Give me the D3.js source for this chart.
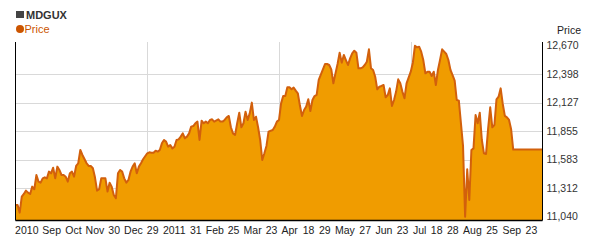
<!DOCTYPE html>
<html>
<head>
<meta charset="utf-8">
<script src="https://cdnjs.cloudflare.com/ajax/libs/d3/7.8.5/d3.min.js"></script>
<style>
  body { margin: 0; background: #fff; }
  text { font-family: "Liberation Sans", Arial, sans-serif; }
</style>
</head>
<body>
<script>
// trading session number (x) and price (y)
var sessions = [0,1,2,3,4,5,6,7,8,9,10,11,12,13,14,15,16,17,18,19,20,21,22,23,24,25,26,27,28,29,30,31,32,34,35,36,37,38,39,40,
  41,42,43,44,45,46,47,48,49,50,51,52,53,54,55,56,57,58,59,60,61,63,64,65,66,67,68,69,70,71,72,73,74,75,76,77,78,79,80,
  81,82,83,84,85,86,87,88,89,90,91,92,93,94,95,97,98,99,100,101,102,103,104,105,106,107,108,109,110,111,112,113,114,115,
  116,117,118,119,120,121,123,124,125,126,127,128,129,130,131,132,133,134,135,136,137,138,139,140,141,142,143,144,145,
  147,148,149,150,151,152,153,154,155,156,157,158,159,160,161,162,163,164,165,166,167,168,169,170,171,172,173,174,175,
  176,177,178,179,180,181,182,183,184,185,186,187,189,190,191,192,193,194,195,196,197,198,199,200,201,202,203,204,205,
  206,207,208,209,210,211,212,214,215,216,217,218,219,220,221,222,223,224,225,226,227,228,229,230,231,232,233,234,235,
  236,237,238,252];
var prices = [11152,11152,11079,11232,11257,11289,11270,11257,11327,11302,11438,11375,11365,11406,11416,11406,11470,11454,11508,11406,
  11518,11486,11438,11438,11422,11375,11454,11470,11422,11524,11550,11677,11629,11550,11524,11524,11502,11416,11289,11302,
  11406,11406,11406,11280,11365,11327,11248,11216,11454,11486,11470,11406,11365,11391,11470,11518,11550,11454,11518,11550,
  11588,11645,11654,11651,11651,11670,11661,11677,11740,11772,11756,11708,11724,11692,11708,11772,11778,11804,11835,11788,
  11804,11835,11899,11905,11931,11947,11772,11956,11931,11947,11931,11963,11969,11947,11969,11947,11947,11963,11988,12001,
  11893,11835,11820,11931,12032,11893,11931,12042,11963,12026,12128,11963,11994,11893,11772,11581,11645,11715,11851,11867,
  11899,11947,11963,12121,12191,12191,12274,12274,12255,12271,12242,12217,12100,12001,12058,12090,12160,12048,12153,12191,
  12201,12344,12445,12496,12496,12487,12445,12312,12407,12496,12604,12509,12582,12534,12487,12550,12598,12623,12604,12455,
  12455,12464,12487,12518,12636,12455,12439,12375,12255,12280,12287,12296,12179,12201,12264,12096,12153,12233,12350,12312,
  12233,12169,12312,12423,12509,12670,12655,12661,12614,12534,12407,12423,12423,12382,12423,12296,12439,12534,12636,12614,
  12592,12534,12439,12391,12337,12153,12147,11715,11040,11492,11200,11677,11692,12010,11931,12032,11772,11645,11639,11883,
  12083,11893,11915,12160,12185,12264,12115,12001,11988,11963,11874,11680,11680];

var xLabels = ["2010","Sep","Oct","Nov","30","Dec","29","2011","31","Feb","25","Mar","23","Apr","18","29","May","27","Jun","23","Jul","18","28","Aug","25","Sep","23"];
var xLabelSessions = [5.4,17.3,27.7,38,47.2,56.4,65.6,75.9,86.2,95.3,104.3,113.4,122.4,131.1,140.1,147.9,157.5,167.2,176.2,185.1,193.3,201.4,209.1,218.5,227.9,237.3,246.7];
var yTicks = [11040,11312,11583,11855,12127,12398,12670];

var width = 600, height = 247;
var margin = {top: 42, right: 57.5, bottom: 27, left: 15.5};
var lastSession = 252;

var svg = d3.select("body").append("svg")
  .attr("width", width)
  .attr("height", height);

var x = d3.scaleLinear()
  .domain([0, lastSession])
  .range([margin.left, width - margin.right]);

var y = d3.scaleLinear()
  .domain([11009, 12706])
  .range([height - margin.bottom, margin.top]);

var data = sessions.map(function(s, i) { return {s: s, p: prices[i]}; });

// grid
svg.append("g").selectAll("line")
  .data(yTicks.slice(1, -1))
  .enter().append("line")
    .attr("x1", x(0)).attr("x2", x(lastSession))
    .attr("y1", function(d) { return Math.round(y(d)) + 0.5; })
    .attr("y2", function(d) { return Math.round(y(d)) + 0.5; })
    .attr("stroke", "#d9d9d9");

svg.append("g").selectAll("line")
  .data([1, 2, 3])
  .enter().append("line")
    .attr("x1", function(d) { return Math.round(x(lastSession * d / 4)) + 0.5; })
    .attr("x2", function(d) { return Math.round(x(lastSession * d / 4)) + 0.5; })
    .attr("y1", margin.top).attr("y2", height - margin.bottom)
    .attr("stroke", "#d9d9d9");

// area + line
var area = d3.area()
  .x(function(d) { return x(d.s); })
  .y0(height - margin.bottom)
  .y1(function(d) { return y(d.p); });

var line = d3.line()
  .x(function(d) { return x(d.s); })
  .y(function(d) { return y(d.p); });

svg.append("path")
  .datum(data)
  .attr("d", area)
  .attr("fill", "#f09c00");

svg.append("path")
  .datum(data)
  .attr("d", line)
  .attr("fill", "none")
  .attr("stroke", "#d2600c")
  .attr("stroke-width", 2)
  .attr("stroke-linejoin", "round");

// axes frame
var frame = svg.append("g").attr("stroke", "#000").attr("stroke-width", 1);
frame.append("line").attr("x1", x(0)).attr("x2", x(0)).attr("y1", margin.top).attr("y2", height - margin.bottom + 0.5);
frame.append("line").attr("x1", x(lastSession)).attr("x2", x(lastSession)).attr("y1", margin.top).attr("y2", height - margin.bottom + 0.5);
frame.append("line").attr("x1", x(0)).attr("x2", x(lastSession)).attr("y1", height - margin.bottom + 0.5).attr("y2", height - margin.bottom + 0.5).attr("stroke-width", 1.5);

// y labels on the right
svg.append("g").selectAll("text")
  .data(yTicks)
  .enter().append("text")
    .attr("x", x(lastSession) + 4)
    .attr("y", function(d) { return y(d); })
    .attr("dy", "0.35em")
    .attr("font-size", 10.5)
    .attr("fill", "#333")
    .text(d3.format(","));

// x labels
svg.append("g").selectAll("text")
  .data(xLabels)
  .enter().append("text")
    .attr("x", function(d, i) { return x(xLabelSessions[i]); })
    .attr("y", 234)
    .attr("text-anchor", "middle")
    .attr("font-size", 10.5)
    .attr("fill", "#222")
    .text(function(d) { return d; });

// axis title
svg.append("text")
  .attr("x", 581).attr("y", 34)
  .attr("text-anchor", "end")
  .attr("font-size", 10.5)
  .attr("fill", "#222")
  .text("Price");

// legend
svg.append("rect").attr("x", 16).attr("y", 11).attr("width", 8).attr("height", 7).attr("fill", "#444");
svg.append("text").attr("x", 26).attr("y", 18.5)
  .attr("font-size", 11).attr("font-weight", "bold").attr("fill", "#333").text("MDGUX");
svg.append("circle").attr("cx", 20).attr("cy", 29).attr("r", 4).attr("fill", "#cc5500");
svg.append("text").attr("x", 24.5).attr("y", 33)
  .attr("font-size", 11).attr("fill", "#cc5500").text("Price");
</script>
</body>
</html>
